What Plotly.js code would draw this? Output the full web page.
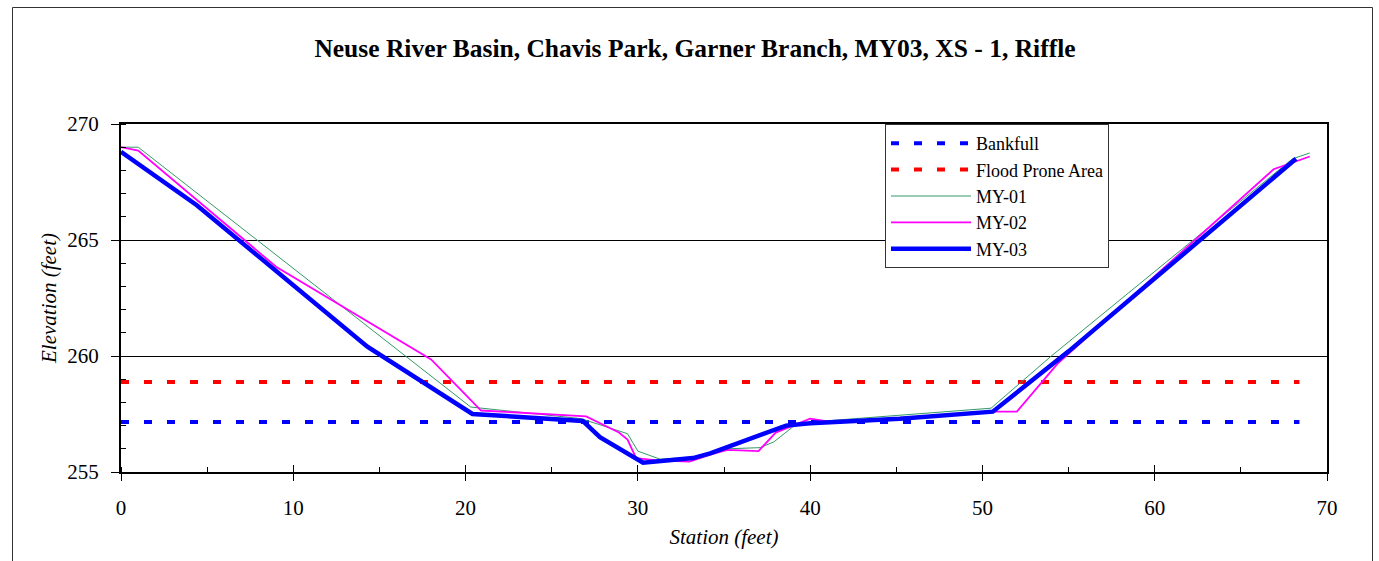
<!DOCTYPE html>
<html>
<head>
<meta charset="utf-8">
<script src="https://cdn.plot.ly/plotly-3.0.1.min.js"></script>
<style>
  html, body { margin: 0; padding: 0; background: #fff; }
  #chart { width: 1379px; height: 561px; }
</style>
</head>
<body>
<div id="chart"></div>
<script>
// ---- data ----
var seriesNames = ["Bankfull", "Flood Prone Area", "MY-01", "MY-02", "MY-03"];

var levelStations = [0, 68.4];
var bankfullElev = [257.15, 257.15];
var floodProneElev = [258.88, 258.88];

var my01Station = [0, 1.0, 20.3, 26.7, 29.4, 30.0, 31.3, 33.2, 35.2, 37.1, 37.9, 39.0, 40.0, 50.5, 54.0, 68.0, 69.0];
var my01Elev    = [269.0, 269.0, 257.8, 257.3, 256.65, 255.9, 255.55, 255.65, 256.0, 256.05, 256.3, 256.95, 257.15, 257.75, 260.0, 268.5, 268.75];

var my02Station = [0, 1.0, 9.0, 18.0, 20.9, 27.0, 28.9, 29.4, 29.9, 31.1, 33.0, 34.2, 35.2, 37.0, 38.0, 40.0, 41.3, 50.8, 52.0, 54.4, 66.9, 67.9, 69.0];
var my02Elev    = [269.0, 268.85, 263.85, 259.85, 257.65, 257.4, 256.7, 256.4, 255.6, 255.5, 255.45, 255.75, 255.95, 255.9, 256.7, 257.3, 257.15, 257.6, 257.6, 259.7, 268.05, 268.3, 268.6];

var my03Station = [0, 4.4, 14.3, 20.4, 26.8, 27.8, 30.3, 33.2, 34.2, 38.6, 40.0, 45.2, 50.6, 55.0, 68.2];
var my03Elev    = [268.8, 266.5, 260.4, 257.5, 257.2, 256.5, 255.4, 255.6, 255.8, 257.0, 257.1, 257.3, 257.6, 260.2, 268.5];

var xTickVals = [0, 10, 20, 30, 40, 50, 60, 70];
var yTickVals = [255, 260, 265, 270];

var serif = "Liberation Serif";

var traces = [
  { x: levelStations, y: bankfullElev, name: seriesNames[0], mode: "lines",
    line: { color: "#0000ff", width: 4, dash: "8px,15px" } },
  { x: levelStations, y: floodProneElev, name: seriesNames[1], mode: "lines",
    line: { color: "#ff0000", width: 4, dash: "8px,15px" } },
  { x: my01Station, y: my01Elev, name: seriesNames[2], mode: "lines",
    line: { color: "#339966", width: 1 } },
  { x: my02Station, y: my02Elev, name: seriesNames[3], mode: "lines",
    line: { color: "#ff00ff", width: 1.8 } },
  { x: my03Station, y: my03Elev, name: seriesNames[4], mode: "lines",
    line: { color: "#0000ff", width: 4.5 } },
  { x: [0, 70], y: [255, 255], xaxis: "x2", yaxis: "y", mode: "lines",
    line: { color: "rgba(0,0,0,0)", width: 0 }, showlegend: false, hoverinfo: "skip" }
];

var L = 121, R = 52, T = 124, B = 89, W = 1379, H = 561;
var pw = W - L - R, ph = H - T - B;
function px2paperX(p) { return (p - L) / pw; }
function px2paperY(p) { return (H - B - p) / ph; }

var layout = {
  width: W, height: H,
  margin: { l: L, r: R, t: T, b: B, pad: 0 },
  paper_bgcolor: "#ffffff",
  plot_bgcolor: "#ffffff",
  font: { family: serif, color: "#000000", size: 21 },
  showlegend: true,
  title: {
    text: "<b>Neuse River Basin, Chavis Park, Garner Branch, MY03, XS - 1, Riffle</b>",
    font: { family: serif, size: 25.5, color: "#000" },
    xref: "container", yref: "container",
    x: 695 / W, xanchor: "center",
    y: 1 - 48 / H, yanchor: "middle"
  },
  xaxis: {
    range: [0, 70], tickvals: xTickVals, ticktext: xTickVals.map(String),
    ticks: "outside", ticklen: 7, tickwidth: 1, tickcolor: "#000",
    minor: { ticks: "inside", dtick: 5, ticklen: 5, tickwidth: 1, tickcolor: "#000", showgrid: false },
    showline: true, linecolor: "#000", linewidth: 2, mirror: true,
    showgrid: false, zeroline: false,
    ticklabelstandoff: 9,
    tickfont: { family: serif, size: 21 },
    title: { text: "<i>Station (feet)</i>", font: { family: serif, size: 21 }, standoff: 10 },
    fixedrange: true
  },
  xaxis2: {
    overlaying: "x", range: [0, 70], tickvals: xTickVals, showticklabels: false,
    ticks: "inside", ticklen: 7, tickwidth: 1, tickcolor: "#000",
    showline: false, showgrid: false, zeroline: false, side: "bottom"
  },
  yaxis: {
    range: [255, 270], tickvals: yTickVals, ticktext: yTickVals.map(String),
    ticks: "outside", ticklen: 8, tickwidth: 1, tickcolor: "#000",
    minor: { ticks: "inside", dtick: 1, ticklen: 5, tickwidth: 1, tickcolor: "#000", showgrid: false },
    showline: true, linecolor: "#000", linewidth: 2, mirror: true,
    showgrid: true, gridcolor: "#000", gridwidth: 1, zeroline: false,
    ticklabelstandoff: 8,
    tickfont: { family: serif, size: 21 },
    title: { text: "<i>Elevation (feet)</i>", font: { family: serif, size: 21 }, standoff: 5 },
    fixedrange: true
  },
  legend: {
    x: px2paperX(885), y: px2paperY(124), xanchor: "left", yanchor: "top",
    bgcolor: "#ffffff", bordercolor: "#333333", borderwidth: 1,
    font: { family: serif, size: 18, color: "#000" },
    itemwidth: 80, tracegroupgap: 0
  },
  shapes: [
    { type: "rect", xref: "paper", yref: "paper",
      x0: px2paperX(12.5), x1: px2paperX(1372.5), y0: px2paperY(575), y1: px2paperY(7.5),
      line: { color: "#333333", width: 1 }, fillcolor: "rgba(0,0,0,0)", layer: "below" }
  ]
};

Plotly.newPlot("chart", traces, layout, { displayModeBar: false, staticPlot: true });
</script>
</body>
</html>
